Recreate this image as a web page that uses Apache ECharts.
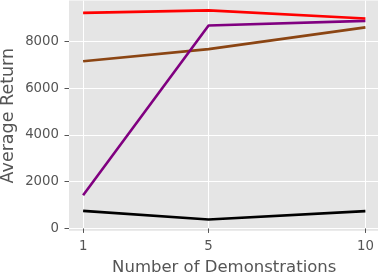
<!DOCTYPE html>
<html>
<head>
<meta charset="utf-8">
<script src="https://cdn.jsdelivr.net/npm/echarts@6/dist/echarts.min.js"></script>
<style>html,body{margin:0;padding:0;background:#fff}#c{width:378px;height:278px}</style>
</head>
<body>
<div id="c"></div>
<script>
const demos = [1, 5, 10];
const xTicks = [1, 5, 10];
const yTicks = [0, 2000, 4000, 6000, 8000];
const blackVals = [750, 380, 740];
const brownVals = [7150, 7670, 8600];
const purpleVals = [1420, 8680, 8880];
const redVals = [9220, 9330, 8980];

const FONT = 'DejaVu Sans';
const TXT = '#555555';
function pairs(v) { return demos.map((d, i) => [d, v[i]]); }
function line(name, color, vals) {
  return { name, type: 'line', data: pairs(vals), showSymbol: false, symbol: 'none',
    lineStyle: { color, width: 2.6 }, itemStyle: { color }, animation: false };
}
const chart = echarts.init(document.getElementById('c'), null, { renderer: 'canvas' });
chart.setOption({
  animation: false,
  grid: { left: 69, top: 0.6, right: -1.5, bottom: 47.3, show: true, backgroundColor: '#e5e5e5', borderWidth: 0,
    containLabel: false, outerBoundsMode: 'none' },
  xAxis: {
    type: 'value', min: 0.55, max: 10.45,
    name: 'Number of Demonstrations', nameLocation: 'middle', nameGap: 28.5, nameMoveOverlap: false,
    nameTextStyle: { fontFamily: FONT, fontSize: 16.5, color: TXT },
    axisLine: { show: false },
    axisTick: { show: true, customValues: xTicks, length: 4.5, lineStyle: { color: TXT, width: 1 } },
    axisLabel: { customValues: xTicks, fontFamily: FONT, fontSize: 13.3, color: TXT, margin: 9,
      formatter: v => String(v) },
    splitLine: { show: true, lineStyle: { color: '#ffffff', width: 1 } }
  },
  yAxis: {
    type: 'value', min: -97, max: 9747,
    name: 'Average Return', nameLocation: 'middle', nameGap: 52, nameRotate: 90, nameMoveOverlap: false,
    nameTextStyle: { fontFamily: FONT, fontSize: 17.5, color: TXT },
    axisLine: { show: false },
    axisTick: { show: true, customValues: yTicks, length: 4.5, lineStyle: { color: TXT, width: 1 } },
    axisLabel: { customValues: yTicks, fontFamily: FONT, fontSize: 13.3, color: TXT, margin: 10,
      formatter: v => String(v) },
    splitLine: { show: true, lineStyle: { color: '#ffffff', width: 1 } }
  },
  series: [
    line('black', '#000000', blackVals),
    line('brown', '#8b4513', brownVals),
    line('purple', '#800080', purpleVals),
    line('red', '#ff0000', redVals)
  ]
});
</script>
</body>
</html>
